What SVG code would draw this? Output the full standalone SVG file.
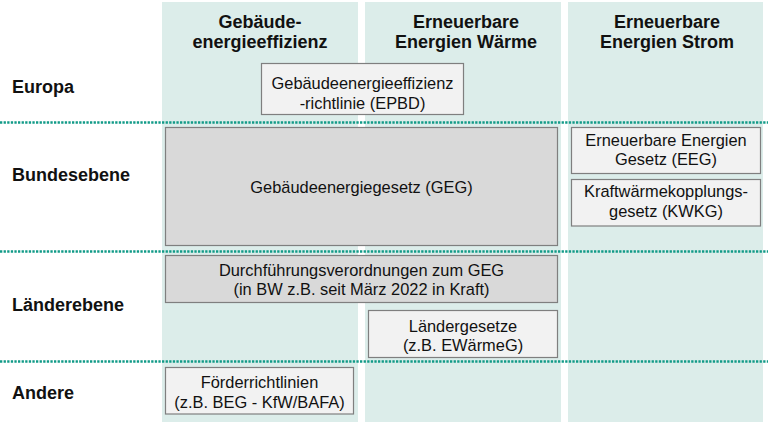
<svg xmlns="http://www.w3.org/2000/svg" width="768" height="428" viewBox="0 0 768 428">
<style>
.col{fill:#dcedea}
.sep{stroke:#129b88;stroke-width:2.5;stroke-dasharray:2.3 1.3;fill:none}
.hdr{font-family:"Liberation Sans",Arial,sans-serif;font-weight:bold;font-size:18px;fill:#111;text-anchor:middle}
.row{font-family:"Liberation Sans",Arial,sans-serif;font-weight:bold;font-size:18px;fill:#111}
.lt{fill:#f2f2f2;stroke:#7f7f7f;stroke-width:1.2}
.dk{fill:#d9d9d9;stroke:#7f7f7f;stroke-width:1.2}
.t{font-family:"Liberation Sans",Arial,sans-serif;font-size:16.4px;fill:#111;text-anchor:middle}
</style>
<rect width="768" height="428" fill="#ffffff"/>
<g id="columns">
<rect class="col" x="162" y="2" width="196" height="420"/>
<rect class="col" x="365" y="2" width="196" height="420"/>
<rect class="col" x="568" y="2" width="195" height="420"/>
<text class="hdr" x="260" y="27.5">Gebäude-</text>
<text class="hdr" x="260" y="47.5">energieeffizienz</text>
<text class="hdr" x="466" y="27.5">Erneuerbare</text>
<text class="hdr" x="466" y="47.5">Energien Wärme</text>
<text class="hdr" x="667" y="27.5">Erneuerbare</text>
<text class="hdr" x="667" y="47.5">Energien Strom</text>
</g>
<g id="rows">
<text class="row" x="12" y="93">Europa</text>
<text class="row" x="12" y="181">Bundesebene</text>
<text class="row" x="12" y="310.5">Länderebene</text>
<text class="row" x="12" y="398.5">Andere</text>
</g>
<g id="connectors">
<line class="sep" x1="0" y1="122.5" x2="768" y2="122.5"/>
<line class="sep" x1="0" y1="251.5" x2="768" y2="251.5"/>
<line class="sep" x1="0" y1="361.5" x2="768" y2="361.5"/>
</g>
<g id="epbd">
<rect class="lt" x="261.5" y="63.5" width="202" height="51"/>
<text class="t" x="362.5" y="88.7">Gebäudeenergieeffizienz</text>
<text class="t" x="362.5" y="108.7">-richtlinie (EPBD)</text>
</g>
<g id="geg">
<rect class="dk" x="165.5" y="127.5" width="392" height="118"/>
<text class="t" x="361.5" y="193">Gebäudeenergiegesetz (GEG)</text>
</g>
<g id="eeg">
<rect class="lt" x="571.5" y="127.5" width="189" height="46"/>
<text class="t" x="666" y="145.7">Erneuerbare Energien</text>
<text class="t" x="666" y="165">Gesetz (EEG)</text>
</g>
<g id="kwkg">
<rect class="lt" x="571.5" y="179.5" width="189" height="46.5"/>
<text class="t" x="666" y="197.3">Kraftwärmekopplungs-</text>
<text class="t" x="666" y="217.3">gesetz (KWKG)</text>
</g>
<g id="durchfuehrung">
<rect class="dk" x="165.5" y="255.5" width="392" height="47"/>
<text class="t" x="361.5" y="276">Durchführungsverordnungen zum GEG</text>
<text class="t" x="361.5" y="295">(in BW z.B. seit März 2022 in Kraft)</text>
</g>
<g id="laendergesetze">
<rect class="lt" x="368.5" y="310.5" width="189" height="47"/>
<text class="t" x="463" y="331.7">Ländergesetze</text>
<text class="t" x="463" y="350.7">(z.B. EWärmeG)</text>
</g>
<g id="foerder">
<rect class="lt" x="165.5" y="367.5" width="188" height="46.5"/>
<text class="t" x="259.5" y="388.3">Förderrichtlinien</text>
<text class="t" x="259.5" y="408.3">(z.B. BEG - KfW/BAFA)</text>
</g>
</svg>
